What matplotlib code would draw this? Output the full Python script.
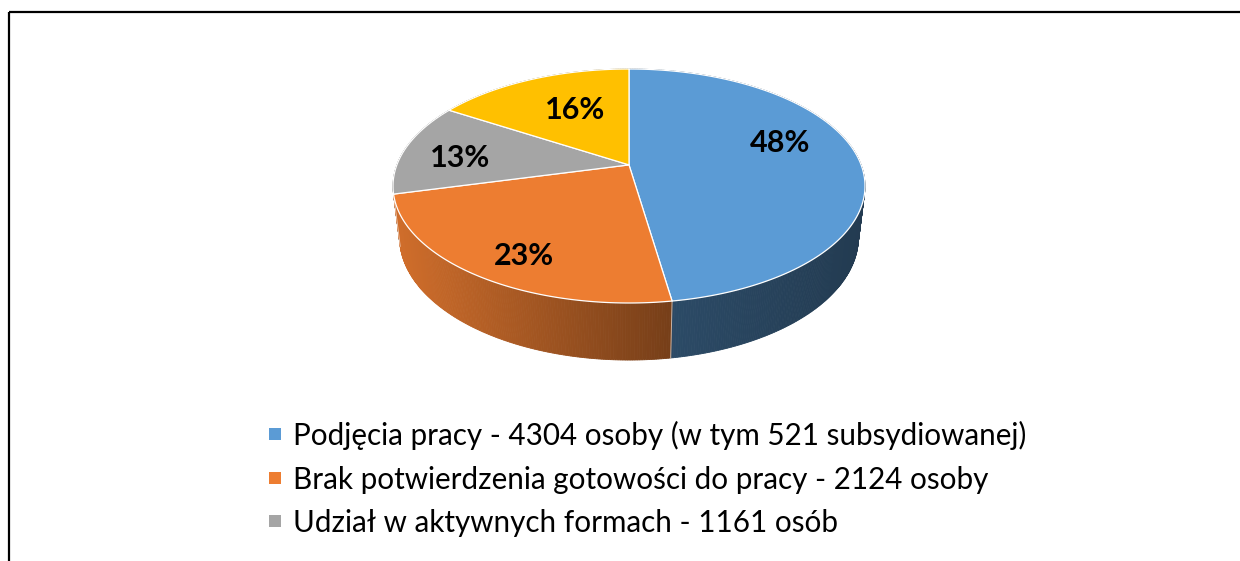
import numpy as np
import matplotlib
matplotlib.use("Agg")
import matplotlib.pyplot as plt
from matplotlib.patches import Polygon, Rectangle
from matplotlib.lines import Line2D
import matplotlib.colors as mcolors

# ---------------- data ----------------
categories = [
    "Podjęcia pracy - 4304 osoby (w tym 521 subsydiowanej)",
    "Brak potwierdzenia gotowości do pracy - 2124 osoby",
    "Udział w aktywnych formach - 1161 osób",
    "Pozostałe",
]
values = [4304, 2124, 1161, 1460]
in_legend = [True, True, True, False]
colors = ["#5B9BD5", "#ED7D31", "#A5A5A5", "#FFC000"]

# ---------------- style ----------------
side_shade = [(0.48, 0.38), (0.88, 0.50), (0.75, 0.55), (0.75, 0.55)]
label_nudge = [(-9, -16), (-5, 17), (-11, 5), (17, 7)]
FONT = ["Lato", "DejaVu Sans"]

W, H = 1240, 561
fig = plt.figure(figsize=(W / 100, H / 100), dpi=100)
ax = fig.add_axes([0, 0, 1, 1])
ax.set_xlim(0, W)
ax.set_ylim(H, 0)
ax.axis("off")

# ---------------- 3D projection ----------------
ALPHA = np.radians(30)
DIST = 4.8
HGT = 0.266
BOX = (393, 865, 69, 303)  # x0, x1, ytop, ybot of the top face


def proj(t, y3, r=1.0):
    X = r * np.cos(t)
    Z = r * np.sin(t)
    up = y3 * np.cos(ALPHA) + Z * np.sin(ALPHA)
    dep = DIST + Z * np.cos(ALPHA) - y3 * np.sin(ALPHA)
    return X / dep, up / dep


_tt = np.linspace(0, 2 * np.pi, 4000)
_sx, _sy = proj(_tt, 0.0)
SXMIN, SXMAX, SYMIN, SYMAX = _sx.min(), _sx.max(), _sy.min(), _sy.max()


def to_px(sx, sy):
    x0, x1, yt, yb = BOX
    px = x0 + (sx - SXMIN) / (SXMAX - SXMIN) * (x1 - x0)
    py = yt + (SYMAX - sy) / (SYMAX - SYMIN) * (yb - yt)
    return px, py


def pt(t, y3, r=1.0):
    return to_px(*proj(t, y3, r))


vals = np.array(values, dtype=float)
frac = vals / vals.sum()
cum = np.concatenate([[0], np.cumsum(frac)])
t_start = np.pi / 2 - 2 * np.pi * cum[:-1]
t_end = np.pi / 2 - 2 * np.pi * cum[1:]

# ---------------- side walls ----------------
strips = []
for i in range(len(values)):
    n = max(4, int(abs(t_start[i] - t_end[i]) / np.radians(0.5)))
    tt = np.linspace(t_end[i], t_start[i], n + 1)
    mids = 0.5 * (tt[:-1] + tt[1:])
    front = np.sin(mids) < 0.15
    xs_front = pt(mids[front], 0.0)[0] if front.any() else np.array([0, 1])
    xmin, xmax = xs_front.min(), xs_front.max()
    base = np.array(mcolors.to_rgb(colors[i]))
    for a, b, m in zip(tt[:-1], tt[1:], mids):
        ax_, ay_ = pt(a, 0.0)
        bx_, by_ = pt(b, 0.0)
        cx_, cy_ = pt(b, -HGT)
        dx_, dy_ = pt(a, -HGT)
        xm = pt(m, 0.0)[0]
        u = 0.0 if xmax == xmin else np.clip((xm - xmin) / (xmax - xmin), 0, 1)
        f = side_shade[i][0] + (side_shade[i][1] - side_shade[i][0]) * u
        col = np.clip(base * f, 0, 1)
        strips.append((np.sin(m), [(ax_, ay_), (bx_, by_), (cx_, cy_), (dx_, dy_)], col))

strips.sort(key=lambda s: -s[0])
for k, (_, poly, col) in enumerate(strips):
    ax.add_patch(Polygon(poly, closed=True, facecolor=col, edgecolor=col,
                         lw=0.6, zorder=1 + k * 1e-4))

# light vertical seams at front slice boundaries
for t in t_start:
    if np.sin(t) < -0.05:
        x0_, y0_ = pt(t, 0.0)
        x1_, y1_ = pt(t, -HGT)
        ax.add_line(Line2D([x0_, x1_], [y0_, y1_], color="white", lw=0.7,
                           alpha=0.6, zorder=2))

# ---------------- top faces ----------------
cxp, cyp = pt(0.0, 0.0, 0.0)
for i in range(len(values)):
    n = max(8, int(abs(t_start[i] - t_end[i]) / np.radians(0.5)))
    tt = np.linspace(t_start[i], t_end[i], n + 1)
    xs, ys = pt(tt, 0.0)
    poly = [(cxp, cyp)] + list(zip(xs, ys))
    ax.add_patch(Polygon(poly, closed=True, facecolor=colors[i],
                         edgecolor="white", lw=0.9, joinstyle="round", zorder=3))

# ---------------- labels ----------------
for i in range(len(values)):
    tm = 0.5 * (t_start[i] + t_end[i])
    lx, ly = pt(tm, 0.0, 0.7)
    lx += label_nudge[i][0]
    ly += label_nudge[i][1]
    ax.text(lx, ly, f"{frac[i] * 100:.0f}%", ha="center", va="center",
            fontsize=22, fontweight="bold", family=FONT, color="black", zorder=5)

# ---------------- legend ----------------
LEG_X, LEG_Y0, LEG_DY, SQ = 269, 434, 43.5, 12
row = 0
for i in range(len(values)):
    if not in_legend[i]:
        continue
    yc = LEG_Y0 + row * LEG_DY
    ax.add_patch(Rectangle((LEG_X, yc - SQ / 2), SQ, SQ, facecolor=colors[i],
                           edgecolor="none", zorder=5))
    ax.text(LEG_X + 24, yc + 11, categories[i], ha="left", va="baseline",
            fontsize=21.3, family=FONT, color="black", zorder=5)
    row += 1

# ---------------- frame (top and left) ----------------
ax.add_line(Line2D([9, W], [12, 12], color="black", lw=1.6, zorder=6,
                   solid_capstyle="butt"))
ax.add_line(Line2D([9, 9], [12, H], color="black", lw=1.6, zorder=6,
                   solid_capstyle="butt"))

fig.savefig("out.png", dpi=100)
